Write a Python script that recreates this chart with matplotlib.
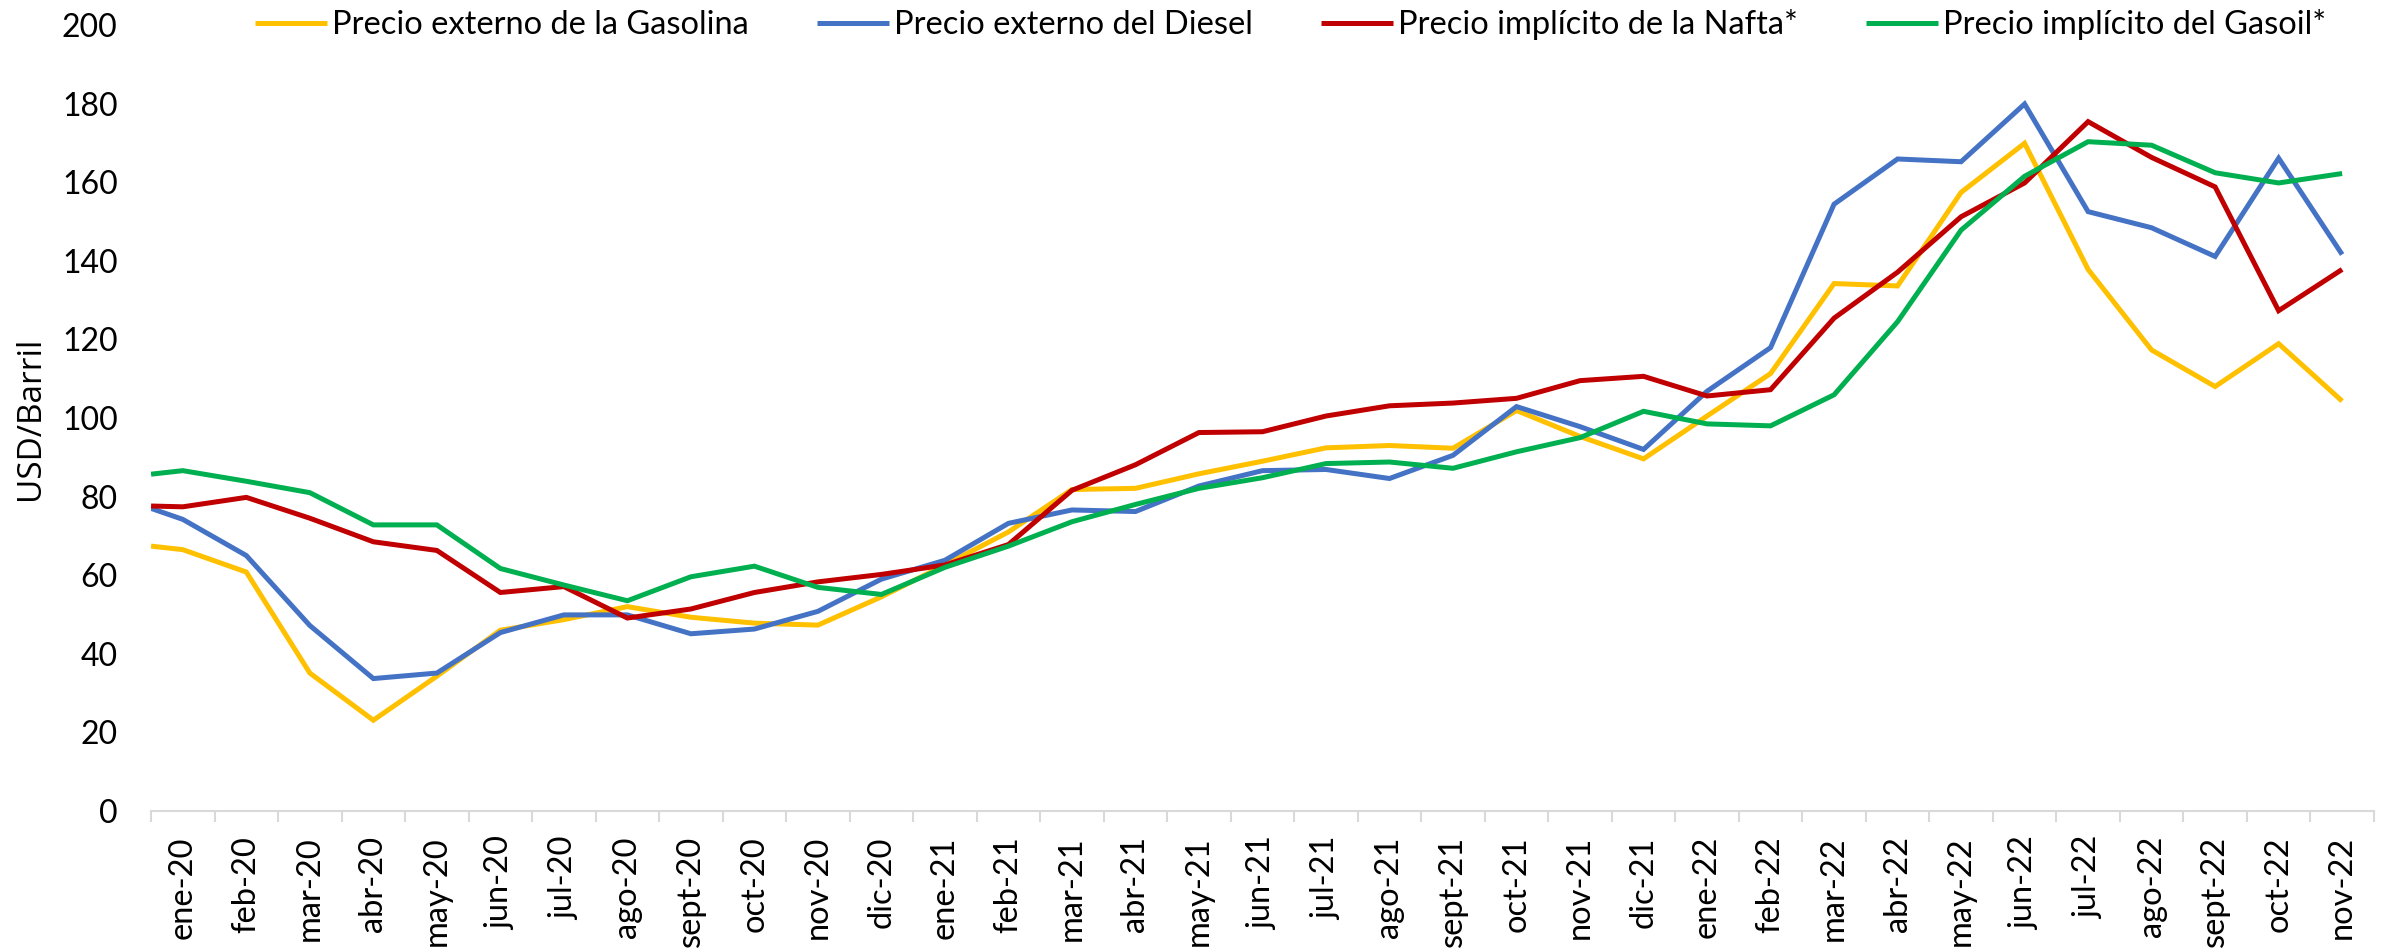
import matplotlib

matplotlib.use("Agg")

import matplotlib.pyplot as plt
import numpy as np
from matplotlib.ticker import FixedLocator

plt.rcParams["font.family"] = ["Lato", "DejaVu Sans"]

months = [
    "ene-20", "feb-20", "mar-20", "abr-20", "may-20", "jun-20", "jul-20", "ago-20",
    "sept-20", "oct-20", "nov-20", "dic-20", "ene-21", "feb-21", "mar-21", "abr-21",
    "may-21", "jun-21", "jul-21", "ago-21", "sept-21", "oct-21", "nov-21", "dic-21",
    "ene-22", "feb-22", "mar-22", "abr-22", "may-22", "jun-22", "jul-22", "ago-22",
    "sept-22", "oct-22", "nov-22",
]

# value where each line enters at the left edge of the axis (series starts before ene-20)
edge_gasolina = 67.4
edge_diesel = 77.0
edge_nafta = 77.6
edge_gasoil = 85.7

gasolina = [66.5, 60.8, 35.1, 23.1, 34.3, 46.0, 48.7, 52.0, 49.3, 47.8, 47.3, 54.5,
            62.6, 71.0, 81.8, 82.1, 85.8, 89.0, 92.4, 93.0, 92.3, 101.9, 95.3, 89.6,
            100.5, 111.3, 134.2, 133.6, 157.4, 169.9, 137.8, 117.3, 108.0, 118.9, 104.3]
diesel = [74.2, 65.0, 47.2, 33.7, 35.1, 45.4, 49.9, 49.9, 45.1, 46.3, 50.8, 59.0,
          63.8, 73.2, 76.6, 76.2, 82.7, 86.6, 86.9, 84.6, 90.5, 102.9, 97.8, 92.0,
          106.8, 117.9, 154.4, 165.9, 165.2, 179.9, 152.5, 148.4, 141.1, 166.1, 141.6]
nafta = [77.4, 79.8, 74.5, 68.5, 66.3, 55.6, 57.1, 49.1, 51.4, 55.6, 58.3, 60.2,
         62.6, 67.8, 81.6, 88.1, 96.3, 96.5, 100.5, 103.1, 103.8, 105.0, 109.5, 110.6,
         105.6, 107.2, 125.4, 137.1, 151.2, 159.8, 175.4, 166.3, 158.8, 127.3, 137.8]
gasoil = [86.6, 83.9, 81.0, 72.8, 72.8, 61.7, 57.5, 53.5, 59.6, 62.3, 56.9, 55.1,
          62.0, 67.4, 73.6, 78.0, 82.1, 84.8, 88.4, 88.8, 87.2, 91.4, 95.0, 101.7,
          98.5, 98.0, 105.9, 124.5, 147.8, 161.5, 170.3, 169.4, 162.4, 159.8, 162.2]

series = [
    ("Precio externo de la Gasolina", edge_gasolina, gasolina, "#FFC000"),
    ("Precio externo del Diesel", edge_diesel, diesel, "#4472C4"),
    ("Precio implícito de la Nafta*", edge_nafta, nafta, "#C00000"),
    ("Precio implícito del Gasoil*", edge_gasoil, gasoil, "#00B050"),
]

n = len(months)
left = -0.5
xs = np.concatenate([[left], np.arange(n)])

fig = plt.figure(figsize=(23.94, 9.49), dpi=100)
ax = fig.add_axes([0.0631, 0.1454, 0.9285, 0.8283])

for label, edge, vals, color in series:
    ax.plot(xs, np.concatenate([[edge], vals]), color=color, lw=3.6,
            label=label, solid_joinstyle="miter", solid_capstyle="butt")

ax.set_xlim(left, n - 0.5)
ax.set_ylim(0, 200)
ax.set_yticks(np.arange(0, 201, 20))
ax.tick_params(axis="y", length=0, pad=24, labelsize=23)

ax.set_xticks(np.arange(n))
ax.set_xticklabels(months, rotation=90, fontsize=23.5)
ax.tick_params(axis="x", which="major", length=0, pad=18)
ax.xaxis.set_minor_locator(FixedLocator(np.arange(n + 1) - 0.5))
ax.tick_params(axis="x", which="minor", length=8, width=1.5, color="#D9D9D9")

for side in ("top", "right", "left"):
    ax.spines[side].set_visible(False)
ax.spines["bottom"].set_color("#D9D9D9")
ax.spines["bottom"].set_linewidth(1.5)

ax.set_ylabel("USD/Barril", fontsize=24, family=["Open Sans", "DejaVu Sans"])
ax.yaxis.set_label_coords(-0.047, 0.5)

fig.legend(loc="center", bbox_to_anchor=(0.539, 0.974), ncol=4, frameon=False,
           fontsize=23.5, handlelength=2.2, handletextpad=0.15, columnspacing=2.1,
           borderaxespad=0)

fig.savefig("out.png", dpi=100)
